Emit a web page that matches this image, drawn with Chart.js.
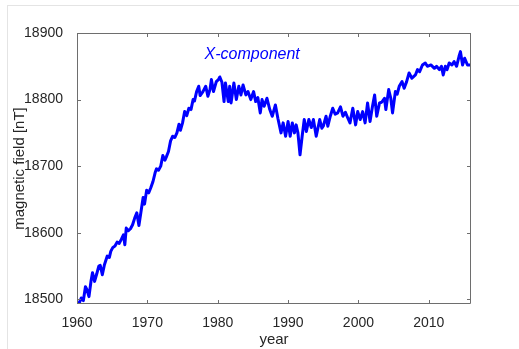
<!DOCTYPE html>
<html>
<head>
<meta charset="utf-8">
<script src="https://cdn.jsdelivr.net/npm/chart.js@4/dist/chart.umd.min.js"></script>
<style>
  body { margin: 0; background: #fff; }
  #wrap { position: relative; width: 519px; height: 349px; }
  #frame { position: absolute; left: 7px; top: 5px; right: 0; bottom: 0; border-top: 1px solid #e4e4e4; border-left: 1px solid #e4e4e4; }
  canvas { position: absolute; left: 0; top: 0; }
</style>
</head>
<body>
<div id="wrap">
  <div id="frame"></div>
  <canvas id="myChart" width="519" height="349"></canvas>
</div>
<script>
// valores (ano, campo em nT)
const years = [
  1960.0, 1960.3, 1960.6, 1960.9, 1961.2, 1961.4, 1961.7, 1962.0, 1962.2, 1962.5,
  1962.8, 1963.1, 1963.3, 1963.6, 1963.9, 1964.3, 1964.6, 1964.8, 1965.1, 1965.4,
  1965.7, 1966.0, 1966.3, 1966.6, 1966.8, 1967.0, 1967.3, 1967.6, 1967.9, 1968.2,
  1968.5, 1968.8, 1969.1, 1969.4, 1969.6, 1969.9, 1970.2, 1970.5, 1970.8, 1971.1,
  1971.3, 1971.6, 1971.9, 1972.2, 1972.5, 1972.7, 1973.0, 1973.3, 1973.6, 1973.9,
  1974.2, 1974.5, 1974.7, 1975.0, 1975.3, 1975.6, 1975.9, 1976.2, 1976.5, 1976.7,
  1977.0, 1977.3, 1977.5, 1977.9, 1978.3, 1978.6, 1978.9, 1979.1, 1979.4, 1979.8,
  1980.1, 1980.3, 1980.6, 1980.9, 1981.1, 1981.5, 1981.7, 1981.9, 1982.3, 1982.65,
  1983.0, 1983.3, 1983.6, 1984.0, 1984.3, 1984.7, 1985.1, 1985.4, 1985.7, 1986.05,
  1986.3, 1986.6, 1987.0, 1987.4, 1987.75, 1988.2, 1988.55, 1989.0, 1989.3, 1989.65,
  1990.0, 1990.3, 1990.6, 1990.9, 1991.15, 1991.4, 1991.7, 1992.0, 1992.3, 1992.6,
  1992.95, 1993.3, 1993.6, 1994.0, 1994.5, 1994.8, 1995.0, 1995.4, 1995.65, 1996.0,
  1996.35, 1996.7, 1997.05, 1997.45, 1997.8, 1998.15, 1998.5, 1998.8, 1999.2, 1999.6,
  1999.9, 2000.25, 2000.6, 2000.95, 2001.3, 2001.65, 2002.0, 2002.3, 2002.6, 2003.0,
  2003.3, 2003.7, 2003.9, 2004.3, 2004.6, 2004.85, 2005.25, 2005.5, 2005.8, 2006.2,
  2006.5, 2006.85, 2007.2, 2007.6, 2008.1, 2008.4, 2008.7, 2009.1, 2009.5, 2009.8,
  2010.3, 2010.8, 2011.1, 2011.5, 2011.8, 2012.05, 2012.35, 2012.6, 2012.9, 2013.3,
  2013.6, 2013.95, 2014.3, 2014.5, 2014.8, 2015.1, 2015.5, 2015.9
];
const fieldX = [
  18495, 18494, 18502, 18498, 18519, 18515, 18504, 18528, 18540, 18527,
  18538, 18550, 18551, 18537, 18552, 18565, 18563, 18572, 18578, 18580,
  18586, 18584, 18590, 18597, 18582, 18607, 18603, 18606, 18612, 18622,
  18630, 18611, 18632, 18653, 18643, 18664, 18660, 18668, 18677, 18690,
  18696, 18694, 18700, 18716, 18709, 18714, 18722, 18738, 18745, 18743,
  18750, 18763, 18754, 18765, 18782, 18776, 18787, 18785, 18800, 18798,
  18812, 18820, 18806, 18812, 18820, 18805, 18815, 18830, 18812, 18827,
  18830, 18834, 18826, 18797, 18825, 18797, 18820, 18795, 18825, 18800,
  18820, 18807, 18822, 18807, 18812, 18800, 18812, 18797, 18803, 18780,
  18800, 18790, 18802, 18785, 18775, 18792, 18772, 18750, 18765, 18745,
  18767, 18745, 18765, 18750, 18762, 18750, 18717, 18745, 18770, 18752,
  18770, 18758, 18770, 18745, 18770, 18757, 18760, 18775, 18760, 18775,
  18787, 18778, 18780, 18789, 18775, 18781, 18772, 18765, 18787, 18762,
  18782, 18770, 18782, 18765, 18795, 18767, 18790, 18807, 18775, 18795,
  18796, 18802, 18785, 18815, 18802, 18780, 18812, 18808, 18820, 18827,
  18817, 18827, 18840, 18832, 18837, 18845, 18842, 18852, 18855, 18850,
  18852, 18847, 18850, 18845, 18850, 18837, 18850, 18845, 18855, 18852,
  18857, 18850, 18865, 18872, 18852, 18862, 18852, 18852
];
const xTicks = [1960, 1970, 1980, 1990, 2000, 2010];
const yTicks = [18500, 18600, 18700, 18800, 18900];
const seriesLabel = 'X-component';

const axisColor = '#262626';
const fontFamily = 'Arial, "Liberation Sans", sans-serif';

// caixa estilo MATLAB com marcas para dentro, e o rótulo no gráfico
const boxPlugin = {
  id: 'boxPlugin',
  afterDraw(chart) {
    const { ctx, chartArea: a, scales } = chart;
    const len = 4;
    ctx.save();
    ctx.strokeStyle = '#6e6e6e';
    ctx.lineWidth = 1;
    ctx.beginPath();
    ctx.rect(a.left + 0.5, a.top + 0.5, a.right - a.left - 1, a.bottom - a.top - 1);
    xTicks.forEach(t => {
      const px = Math.round(scales.x.getPixelForValue(t)) + 0.5;
      ctx.moveTo(px, a.bottom); ctx.lineTo(px, a.bottom - len);
      ctx.moveTo(px, a.top); ctx.lineTo(px, a.top + len);
    });
    yTicks.forEach(t => {
      const py = Math.round(scales.y.getPixelForValue(t)) + 0.5;
      ctx.moveTo(a.left, py); ctx.lineTo(a.left + len, py);
      ctx.moveTo(a.right, py); ctx.lineTo(a.right - len, py);
    });
    ctx.stroke();

    ctx.fillStyle = '#0000ff';
    ctx.font = 'italic 16px ' + fontFamily;
    ctx.textAlign = 'center';
    ctx.textBaseline = 'middle';
    ctx.fillText(seriesLabel, scales.x.getPixelForValue(1984.9), scales.y.getPixelForValue(18868));
    ctx.restore();
  }
};

const ctx = document.getElementById('myChart').getContext('2d');
const myChart = new Chart(ctx, {
  type: 'line',
  data: {
    datasets: [{
      label: seriesLabel,
      data: years.map((y, i) => ({ x: y, y: fieldX[i] })),
      borderColor: '#0000ff',
      borderWidth: 3,
      borderJoinStyle: 'round',
      borderCapStyle: 'round',
      pointRadius: 0,
      tension: 0,
      fill: false
    }]
  },
  options: {
    responsive: false,
    animation: false,
    layout: { padding: { left: 0, right: 48, top: 33, bottom: 0 } },
    plugins: {
      legend: { display: false },
      tooltip: { enabled: false }
    },
    scales: {
      x: {
        type: 'linear',
        min: 1960,
        max: 2016,
        afterFit: s => { s.height = 45; },
        afterBuildTicks: s => { s.ticks = xTicks.map(v => ({ value: v })); },
        grid: { display: false },
        border: { display: false },
        ticks: {
          color: axisColor,
          padding: 3,
          font: { family: fontFamily, size: 14 },
          callback: v => String(v)
        },
        title: {
          display: true,
          text: 'year',
          color: axisColor,
          padding: { top: 0, bottom: 0 },
          font: { family: fontFamily, size: 15 }
        }
      },
      y: {
        min: 18493,
        max: 18900,
        afterFit: s => { s.width = 77; },
        afterBuildTicks: s => { s.ticks = yTicks.map(v => ({ value: v })); },
        grid: { display: false },
        border: { display: false },
        ticks: {
          color: axisColor,
          padding: 6,
          font: { family: fontFamily, size: 14 },
          callback: v => String(v)
        },
        title: {
          display: true,
          text: 'magnetic field [nT]',
          color: axisColor,
          padding: { top: 11, bottom: 0 },
          font: { family: fontFamily, size: 15 }
        }
      }
    }
  },
  plugins: [boxPlugin]
});
</script>
</body>
</html>
